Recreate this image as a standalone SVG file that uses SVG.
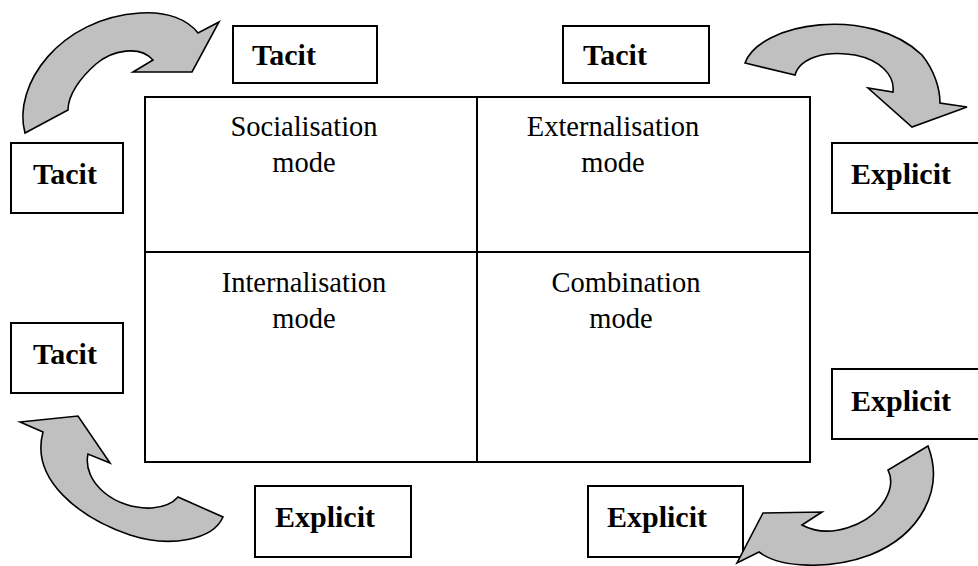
<svg xmlns="http://www.w3.org/2000/svg" width="978" height="566" viewBox="0 0 978 566">
<style>
.box{fill:#fff;stroke:#000;stroke-width:2}
.lbl{font-family:"Liberation Serif","Times New Roman",serif;font-weight:bold;font-size:30px;fill:#000}
.mode{font-family:"Liberation Serif","Times New Roman",serif;font-size:28.5px;fill:#000;text-anchor:middle}
.arr{fill:#c0c0c0;stroke:#000;stroke-width:1.6;stroke-linejoin:miter}
.grid{fill:none;stroke:#000;stroke-width:2}
</style>
<rect width="978" height="566" fill="#fff"/>
<g id="matrix">
<rect class="grid" x="145" y="97" width="665" height="365"/>
<line class="grid" x1="477" y1="97" x2="477" y2="462"/>
<line class="grid" x1="145" y1="252" x2="810" y2="252"/>
</g>
<g id="socialisation"><text class="mode" x="304" y="136">Socialisation</text><text class="mode" x="304" y="172">mode</text></g>
<g id="externalisation"><text class="mode" x="613" y="136">Externalisation</text><text class="mode" x="613" y="172">mode</text></g>
<g id="internalisation"><text class="mode" x="304" y="292">Internalisation</text><text class="mode" x="304" y="328">mode</text></g>
<g id="combination"><text class="mode" x="626" y="292">Combination</text><text class="mode" x="621" y="328">mode</text></g>
<g id="tacit-top-left"><rect class="box" x="233" y="26" width="144" height="57"/><text class="lbl" x="252" y="65">Tacit</text></g>
<g id="tacit-top-right"><rect class="box" x="563" y="26" width="146" height="57"/><text class="lbl" x="583" y="65">Tacit</text></g>
<g id="tacit-left"><rect class="box" x="11" y="143" width="112" height="70"/><text class="lbl" x="33" y="184">Tacit</text></g>
<g id="tacit-left-low"><rect class="box" x="11" y="323" width="112" height="70"/><text class="lbl" x="33" y="364">Tacit</text></g>
<g id="explicit-right"><rect class="box" x="832" y="143" width="150" height="70"/><text class="lbl" x="851" y="184">Explicit</text></g>
<g id="explicit-right-low"><rect class="box" x="832" y="369" width="150" height="70"/><text class="lbl" x="851" y="411">Explicit</text></g>
<g id="explicit-bottom-left"><rect class="box" x="255" y="486" width="156" height="71"/><text class="lbl" x="275" y="527">Explicit</text></g>
<g id="explicit-bottom-right"><rect class="box" x="588" y="486" width="155" height="71"/><text class="lbl" x="607" y="527">Explicit</text></g>
<g id="connectors">
<path class="arr" d="M25,133 C 12,85 60,18 140,13 C 168,11 188,20 198,33 L219,22 L192,72 L133,72 L153,60 C 140,45 112,50 96,64 C 80,78 68,95 68,110 Z"/>
<path class="arr" d="M745,63 C 760,22 870,5 922,55 C 934,70 940,88 940,103 L967,107 L912,127 L868,88 L893,92 C 895,75 880,60 855,55 C 825,50 800,58 795,75 Z"/>
<path class="arr" d="M20,422 L78,416 L110,463 L88,454 C 82,482 115,510 152,508 C 163,507 173,503 178,497 L223,517 C 213,540 170,548 130,535 C 80,518 30,480 43,432 Z"/>
<path class="arr" d="M928,446 C 945,490 920,535 870,555 C 830,570 780,568 759,552 L737,563 L763,513 L822,512 L802,525 C 830,540 870,525 885,500 C 892,488 892,478 888,470 Z"/>
</g>
</svg>
